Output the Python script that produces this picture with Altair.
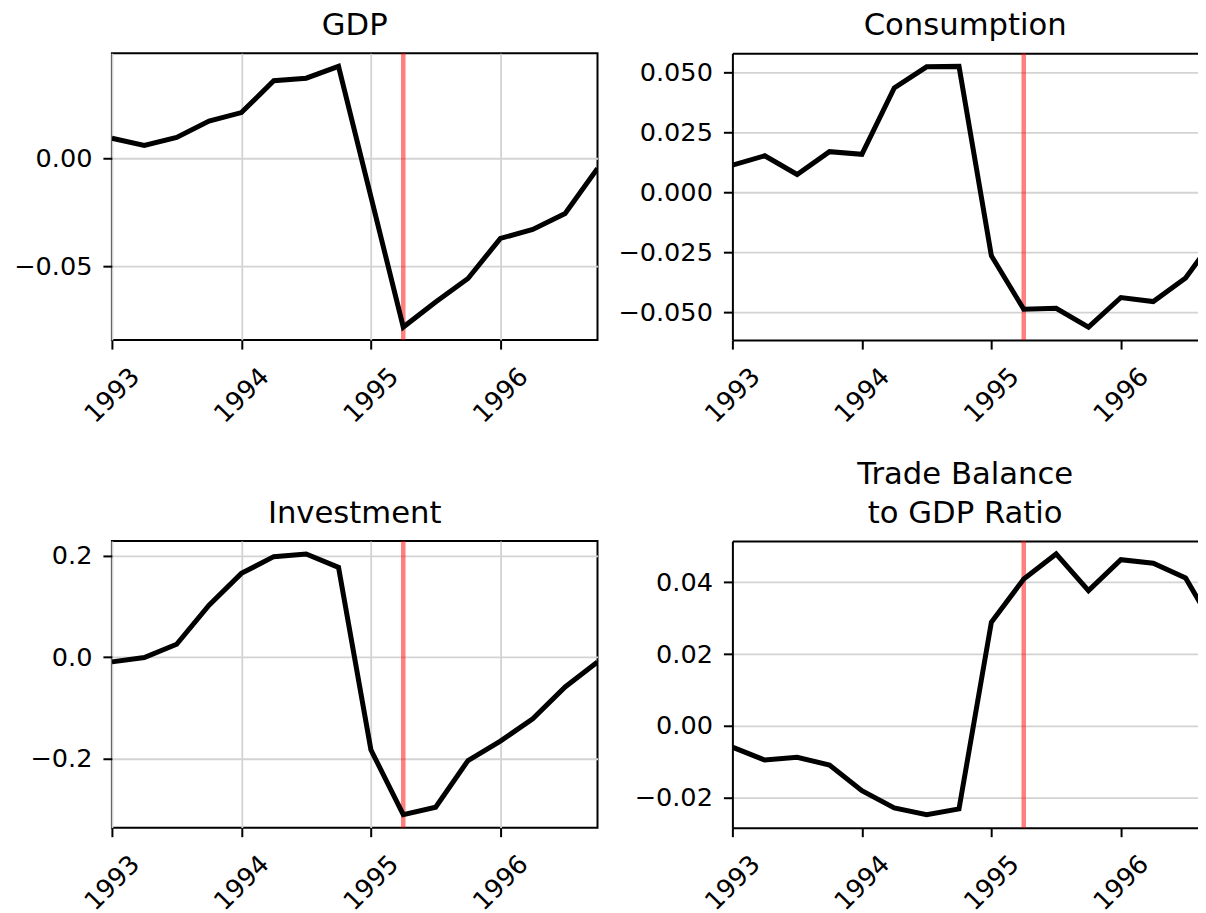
import altair as alt
import pandas as pd

# ---- data ----
quarters = [1993.0, 1993.25, 1993.5, 1993.75,
            1994.0, 1994.25, 1994.5, 1994.75,
            1995.0, 1995.25, 1995.5, 1995.75,
            1996.0, 1996.25, 1996.5, 1996.75]

gdp = [0.0095, 0.0061, 0.0099, 0.0175, 0.0214, 0.0362, 0.0374, 0.0429,
       -0.0177, -0.0783, -0.0666, -0.0557, -0.0371, -0.0329, -0.0255, -0.0045]

consumption = [0.0113, 0.0152, 0.0074, 0.0169, 0.0158, 0.0434, 0.0522, 0.0524,
               -0.0264, -0.0487, -0.0483, -0.0561, -0.0438, -0.0455, -0.0357, -0.0172]

investment = [-0.0092, -0.0007, 0.0257, 0.1030, 0.1657, 0.1987, 0.2040, 0.1776,
              -0.1828, -0.3110, -0.2964, -0.2040, -0.1657, -0.1215, -0.0587, -0.0092]

trade_balance = [-0.0059, -0.0095, -0.0087, -0.0109, -0.0180, -0.0228, -0.0247, -0.0231,
                 0.0289, 0.0409, 0.0479, 0.0377, 0.0463, 0.0453, 0.0412, 0.0257]

titles = ["GDP", "Consumption", "Investment", ["Trade Balance", " to GDP Ratio"]]
shock_date = [1995.25]
x_ticks = [1993, 1994, 1995, 1996]
gdp_ticks = [-0.05, 0.0]
cons_ticks = [-0.05, -0.025, 0.0, 0.025, 0.05]
inv_ticks = [-0.2, 0.0, 0.2]
tb_ticks = [-0.02, 0.0, 0.02, 0.04]

FONT = "DejaVu Sans"
TICK_FS = 25.6
TITLE_FS = 30.7
PW_LEFT = 486          # full panel width
PW_RIGHT = 466         # right column: only the part that is visible in the figure
PH = 287
X_START, X_END = 1993.0, 1996.75


def panel(values, title, yticks, fmt, right, x_extent):
    df = pd.DataFrame({"t": quarters, "v": values})
    lo, hi = min(values), max(values)
    r = hi - lo
    ydom = [lo - 0.05 * r, hi + 0.05 * r]
    pw = PW_RIGHT if right else PW_LEFT
    x_end = X_START + (X_END - X_START) * pw / PW_LEFT
    xscale = alt.Scale(domain=[X_START, x_end], nice=False, zero=False)
    xaxis = alt.Axis(values=x_ticks, format="d", labelAngle=315, labelAlign="center",
                     labelBaseline="middle", labelPadding=46, labelFlush=False,
                     labelOverlap=False, minExtent=x_extent, maxExtent=x_extent,
                     domain=right, domainColor="black", domainWidth=2)
    x = alt.X("t:Q", scale=xscale, axis=xaxis, title=None)
    y = alt.Y("v:Q", scale=alt.Scale(domain=ydom, nice=False, zero=False),
              axis=alt.Axis(values=yticks, format=fmt, minExtent=103, maxExtent=103,
                            labelPadding=11, domain=right, domainColor="black",
                            domainWidth=2),
              title=None)
    if right:
        top_axis = alt.Axis(orient="top", domain=True, domainColor="black", domainWidth=2,
                            labels=False, ticks=False, grid=False, minExtent=0, maxExtent=0)
        x_rule = alt.X("t:Q", scale=xscale, axis=top_axis, title=None)
    else:
        x_rule = x
    rule = alt.Chart(pd.DataFrame({"t": shock_date})).mark_rule(
        color="red", opacity=0.5, strokeWidth=4.5
    ).encode(x=x_rule)
    line = alt.Chart(df).mark_line(color="black", strokeWidth=5, clip=True).encode(x=x, y=y)
    lay = alt.layer(rule, line)
    if right:
        lay = lay.resolve_axis(x="independent")
        view = alt.ViewBackground(stroke=None)
    else:
        view = alt.ViewBackground(stroke="black", strokeWidth=2)
    multi = isinstance(title, list)
    tp = dict(text=title, fontSize=TITLE_FS, font=FONT, fontWeight="normal",
              color="black", offset=9, baseline="top",
              anchor="middle", frame="group")
    if multi:
        tp["lineHeight"] = 39
    return lay.properties(width=pw, height=PH, view=view, title=alt.TitleParams(**tp))


charts = [
    panel(gdp, titles[0], gdp_ticks, ".2f", False, 80),
    panel(consumption, titles[1], cons_ticks, ".3f", True, 80),
    panel(investment, titles[2], inv_ticks, ".1f", False, 66),
    panel(trade_balance, titles[3], tb_ticks, ".2f", True, 66),
]

chart = alt.concat(*charts, columns=2, align="each",
                   spacing={"row": 30, "column": 19}).properties(
    padding={"left": 0, "top": 1, "right": 0, "bottom": 0}
).configure_view(
    stroke=None
).configure_axis(
    labelFont=FONT, labelFontSize=TICK_FS, labelColor="black",
    tickColor="black", tickWidth=2, tickSize=9,
    grid=True, gridColor="#d3d3d3", gridWidth=1.8,
)

chart.save("out.html", embed_options={"renderer": "svg", "actions": False})
